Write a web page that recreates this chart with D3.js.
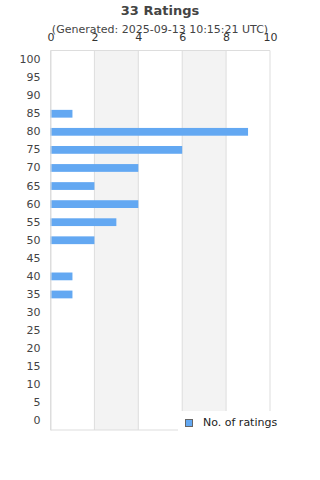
<!DOCTYPE html>
<html><head><meta charset="utf-8">
<script src="https://cdn.jsdelivr.net/npm/d3@7"></script>
<style>body{margin:0;background:#fff;}svg{display:block;font-family:"DejaVu Sans",sans-serif;}</style>
</head><body>
<svg id="c" width="320" height="480"></svg>
<script>
const categories = [100,95,90,85,80,75,70,65,60,55,50,45,40,35,30,25,20,15,10,5,0];
const counts = [0,0,0,1,9,6,4,2,4,3,2,0,1,1,0,0,0,0,0,0,0];
const xTicks = [0,2,4,6,8,10];
const title = "33 Ratings";
const subtitle = "(Generated: 2025-09-13 10:15:21 UTC)";
const seriesName = "No. of ratings";

const svg = d3.select("#c");
const L = 50.5, R = 270, T = 50.5, B = 430;
const x = d3.scaleLinear().domain([0,10]).range([L,R]);
const y = d3.scaleBand().domain(categories).range([T,B]).paddingInner(0.57).paddingOuter(0.285);

// shaded bands
[[2,4],[6,8]].forEach(([a,b])=>{
  svg.append("rect").attr("x",x(a)).attr("y",T).attr("width",x(b)-x(a)).attr("height",B-T).attr("fill","#f3f3f3");
});
// gridlines
xTicks.forEach(t=>{
  svg.append("line").attr("x1",x(t)).attr("x2",x(t)).attr("y1",T).attr("y2",B).attr("stroke","#ddd").attr("stroke-width",1);
});
svg.append("line").attr("x1",L).attr("x2",R).attr("y1",T).attr("y2",T).attr("stroke","#ddd");
svg.append("line").attr("x1",L).attr("x2",R).attr("y1",B).attr("y2",B).attr("stroke","#ddd");

// bars
svg.selectAll("rect.bar").data(categories.map((c,i)=>({c,v:counts[i]})).filter(d=>d.v>0))
  .enter().append("rect").attr("class","bar")
  .attr("x",x(0)).attr("y",d=>y(d.c)).attr("width",d=>x(d.v)-x(0)).attr("height",y.bandwidth())
  .attr("fill","#63a8f2");

// x axis (top)
const xa = svg.append("g").attr("transform",`translate(0,${T})`).call(d3.axisTop(x).tickValues(xTicks).tickSize(0).tickPadding(9.5));
xa.select(".domain").remove();
xa.selectAll("text").attr("font-size",11).attr("fill","#333").attr("font-family","DejaVu Sans");

// y axis
const ya = svg.append("g").attr("transform",`translate(${L},0)`).call(d3.axisLeft(y).tickSize(0).tickPadding(10));
ya.select(".domain").attr("stroke","#ddd");
ya.selectAll("text").attr("font-size",11).attr("fill","#444").attr("font-family","DejaVu Sans");

// legend background
svg.append("rect").attr("x",178).attr("y",411).attr("width",142).attr("height",30).attr("fill","#fff");
svg.append("rect").attr("x",185.5).attr("y",419.5).attr("width",7).attr("height",7).attr("fill","#63a8f2").attr("stroke","#666");
svg.append("text").attr("x",203).attr("y",426).attr("font-size",11).attr("fill","#222").text(seriesName);

// titles
svg.append("text").attr("x",160).attr("y",15).attr("text-anchor","middle").attr("font-size",13).attr("font-weight","bold").attr("fill","#444").text(title);
svg.append("text").attr("x",160).attr("y",33).attr("text-anchor","middle").attr("font-size",11).attr("fill","#444").text(subtitle);
</script>
</body></html>
